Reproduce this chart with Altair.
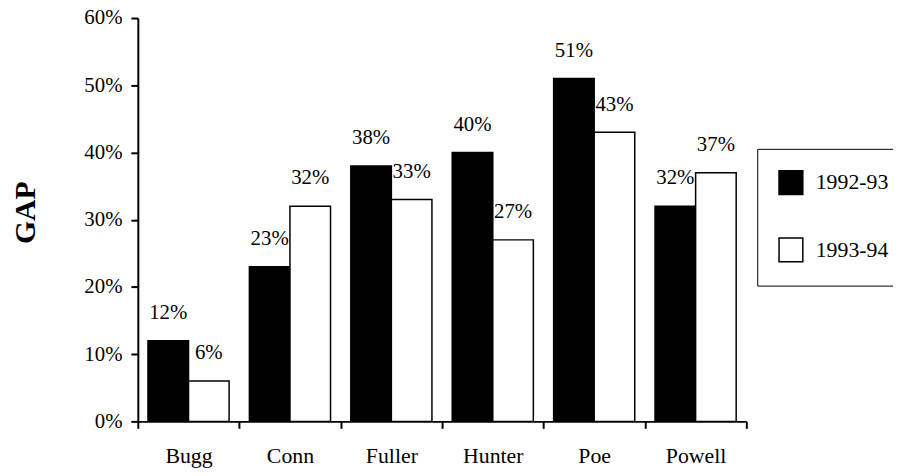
import altair as alt
import pandas as pd

schools = ["Bugg", "Conn", "Fuller", "Hunter", "Poe", "Powell"]
years = ["1992-93", "1993-94"]
gap_9293 = [0.12, 0.23, 0.38, 0.40, 0.51, 0.32]
gap_9394 = [0.06, 0.32, 0.33, 0.27, 0.43, 0.37]
y_ticks = [0, 0.1, 0.2, 0.3, 0.4, 0.5, 0.6]

rows = []
for s, a, b in zip(schools, gap_9293, gap_9394):
    rows.append({"school": s, "year": years[0], "gap": a})
    rows.append({"school": s, "year": years[1], "gap": b})
df = pd.DataFrame(rows)

FONT = "Liberation Serif"

x = alt.X(
    "school:N", sort=schools, title=None,
    scale=alt.Scale(paddingInner=0, paddingOuter=0),
    axis=alt.Axis(labelAngle=0, tickBand="extent", labelFont=FONT, labelFontSize=22,
                  labelColor="black", labelPadding=17, tickSize=7, tickWidth=2,
                  tickColor="black", domainColor="black", domainWidth=2, grid=False),
)
xo = alt.XOffset("year:N", sort=years, scale=alt.Scale(paddingOuter=0.25, paddingInner=0))
y = alt.Y(
    "gap:Q", scale=alt.Scale(domain=[0, 0.6]),
    axis=alt.Axis(values=y_ticks, format=".0%", title="GAP", titleFont=FONT, titleFontSize=30,
                  titleFontWeight="bold", titleColor="black", titleAngle=270,
                  titleX=-113, titleY=196, titleAlign="center", titleBaseline="middle",
                  labelFont=FONT, labelFontSize=21, labelColor="black", labelPadding=9,
                  tickSize=7, tickWidth=2, tickColor="black", domainColor="black",
                  domainWidth=2, grid=False),
)
color = alt.Color(
    "year:N", sort=years,
    scale=alt.Scale(domain=years, range=["black", "white"]),
    legend=alt.Legend(title=None, orient="none", legendX=625, legendY=132,
                      symbolType="square", symbolSize=576, symbolStrokeColor="black",
                      symbolStrokeWidth=1.5, labelFont=FONT, labelFontSize=22,
                      labelColor="black", labelOffset=12, rowPadding=38, padding=21,
                      labelExpr="datum.label + '          '", labelLimit=400,
                      strokeColor="black", fillColor="white"),
)

bars = alt.Chart(df).mark_bar(stroke="black", strokeWidth=1.5).encode(x=x, xOffset=xo, y=y, color=color)
labels = alt.Chart(df).mark_text(font=FONT, fontSize=21, baseline="alphabetic", dy=-22,
                                 color="black").encode(
    x=x, xOffset=xo, y=y, text=alt.Text("gap:Q", format=".0%"))

chart = alt.layer(bars, labels).properties(
    width=614, height=407,
    padding={"left": 131, "top": 8, "right": 148, "bottom": 53},
    autosize=alt.AutoSizeParams(type="none"),
).configure_view(stroke=None)

chart.save("out.html", embed_options={"renderer": "svg", "actions": False})
